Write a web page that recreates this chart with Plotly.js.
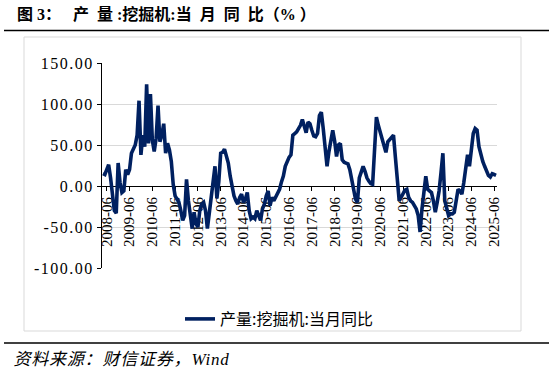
<!DOCTYPE html>
<html>
<head>
<meta charset="utf-8">
<script src="https://cdn.plot.ly/plotly-3.0.1.min.js"></script>
<style>
html,body{margin:0;padding:0;background:#ffffff;}
#chart{width:549px;height:375px;}
#chart .ytick text{letter-spacing:1.5px;}
#chart .annotation-text{letter-spacing:0.8px;}
</style>
</head>
<body>
<div id="chart"></div>
<script>
// Category axis: monthly, starting 2008-04
const startYear = 2008;
const startMonth = 4;
const monthCount = 208;
const months = [];
for (let k = 0; k < monthCount; k++) {
  const m = startMonth - 1 + k;
  const y = startYear + Math.floor(m / 12);
  const mm = (m % 12) + 1;
  months.push(y + '-' + String(mm).padStart(2, '0'));
}

// 产量:挖掘机:当月同比 (%)
const yoy = [
  15, 14, 20, 26, 10, -8, -30, -33, 28, 4,
  -8, -6, 20, 14, 20, 40, 45, 50, 62, 104,
  38, 62, 48, 124, 52, 112, 56, 42, 58, 98,
  54, 62, 76, 40, 52, 44, 30, 2, -12, -16,
  -20, -30, -42, -36, 8, -18, -35, -52, -32, -46,
  -50, -30, -22, -20, -30, -52, -33, -12, 4, 24,
  -15, 5, 40, 41, 45, 38, 28, 12, 0, -12,
  -18, -22, -14, -10, -20, -16, -8, -30, -40, -38,
  -40, -30, -36, -42, -28, -22, -12, -6, -24, -14,
  -18, -14, -10, -4, 5, 12, 24, 30, 35, 38,
  62, 64, 66, 70, 74, 81, 72, 65, 78, 76,
  68, 61, 60, 64, 86, 90, 70, 48, 24, 42,
  58, 68, 55, 36, 50, 52, 32, 29, 28, 27,
  20, 6, -6, -16, -20, 10, 17, 24, 18, 10,
  6, 3, 2, 40, 84, 74, 66, 56, 50, 41,
  54, 57, 60, 62, 35, 2, -18, -14, -8, -5,
  -4, -14, -18, -20, -24, -28, -36, -56, -28, -10,
  12, -4, -6, -8, -18, -32, -20, -6, 16, 40,
  -18, -28, -36, -34, -34, -32, -20, -4, -6, -10,
  4, 18, 38, 24, 42, 64, 70, 68, 48, 38,
  30, 24, 17, 13, 11, 15, 14, 13
];

const xTickLabels = ['2008-06','2009-06','2010-06','2011-06','2012-06','2013-06','2014-06','2015-06','2016-06',
  '2017-06','2018-06','2019-06','2020-06','2021-06','2022-06','2023-06','2024-06','2025-06'];
const yTickVals = [-100, -50, 0, 50, 100, 150];
const yTickText = ['-100.00', '-50.00', '0.00', '50.00', '100.00', '150.00'];

const seriesName = '产量:挖掘机:当月同比';
const titleText = '图\u00a03：\u00a0\u00a0\u00a0产\u00a0\u00a0量\u00a0:挖掘机:当\u00a0\u00a0月\u00a0\u00a0同\u00a0\u00a0比（%\u00a0）';
const sourceText = '资料来源：财信证券，Wind';

const serif = 'Liberation Serif, Noto Sans CJK SC, serif';
const cjk = 'Noto Sans CJK SC, sans-serif';

const trace = {
  type: 'scatter',
  mode: 'lines',
  x: months,
  y: yoy,
  name: seriesName,
  line: {color: '#002060', width: 3.6},
  showlegend: true
};

const layout = {
  width: 549,
  height: 375,
  margin: {l: 102, r: 52, t: 63, b: 107, pad: 0, autoexpand: false},
  paper_bgcolor: '#ffffff',
  plot_bgcolor: '#ffffff',
  title: {
    text: titleText,
    font: {family: serif, size: 16, color: '#000000', weight: 'bold'},
    xref: 'container', yref: 'container',
    x: 17 / 549, xanchor: 'left',
    y: 1 - 14.5 / 375, yanchor: 'middle',
    pad: {t: 0, b: 0, l: 0, r: 0}
  },
  xaxis: {
    type: 'category',
    categoryorder: 'array',
    categoryarray: months,
    range: [-0.5, months.length - 0.5],
    anchor: 'free',
    position: 0.4,
    showline: true,
    linecolor: '#000000',
    linewidth: 1,
    ticks: 'outside',
    ticklen: 4,
    tickcolor: '#000000',
    tickvals: xTickLabels,
    ticktext: xTickLabels,
    tickangle: -90,
    tickfont: {family: serif, size: 15, color: '#000000'},
    showgrid: false,
    zeroline: false,
    fixedrange: true,
    layer: 'below traces'
  },
  yaxis: {
    range: [-100, 150],
    tickvals: yTickVals,
    ticktext: yTickText,
    showline: true,
    linecolor: '#000000',
    linewidth: 1,
    ticks: 'outside',
    ticklen: 4,
    tickcolor: '#000000',
    tickfont: {family: serif, size: 16, color: '#000000'},
    showgrid: true,
    gridcolor: '#d9d9d9',
    gridwidth: 1,
    zeroline: false,
    fixedrange: true
  },
  legend: {
    orientation: 'h',
    xref: 'container', yref: 'container',
    x: 279 / 549, xanchor: 'center',
    y: 1 - 319 / 375, yanchor: 'middle',
    font: {family: cjk, size: 16, color: '#000000'},
    bgcolor: 'rgba(0,0,0,0)'
  },
  shapes: [
    {type: 'rect', xref: 'paper', yref: 'paper', x0: (24 - 102) / 395, x1: (521 - 102) / 395,
     y0: (268 - 331) / 205, y1: (268 - 37) / 205, line: {color: '#d9d9d9', width: 1}, layer: 'below'},
    {type: 'line', xref: 'paper', yref: 'paper', x0: (4 - 102) / 395, x1: (549 - 102) / 395,
     y0: (268 - 30.5) / 205, y1: (268 - 30.5) / 205, line: {color: '#000000', width: 1.6}},
    {type: 'line', xref: 'paper', yref: 'paper', x0: (4 - 102) / 395, x1: (549 - 102) / 395,
     y0: (268 - 343) / 205, y1: (268 - 343) / 205, line: {color: '#000000', width: 1.6}}
  ],
  annotations: [
    {text: sourceText, xref: 'paper', yref: 'paper', x: (17 - 102) / 395, xanchor: 'left',
     y: (268 - 359) / 205, yanchor: 'middle', showarrow: false,
     font: {family: serif, size: 17, color: '#000000', style: 'italic'}}
  ]
};

Plotly.newPlot('chart', [trace], layout, {displayModeBar: false, staticPlot: true});
</script>
</body>
</html>
